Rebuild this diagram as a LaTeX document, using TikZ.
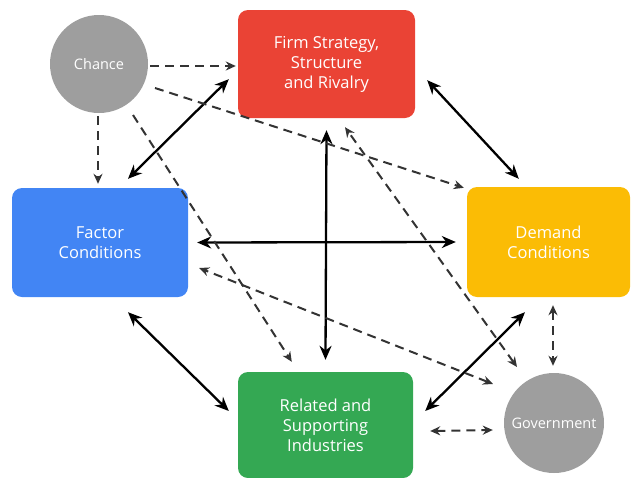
\documentclass[tikz,border=0pt]{standalone}
\usepackage{fontspec}
\setmainfont{Open Sans}
\usetikzlibrary{arrows.meta}
\definecolor{firmred}{HTML}{EA4335}
\definecolor{factorblue}{HTML}{4285F4}
\definecolor{demandyellow}{HTML}{FBBC05}
\definecolor{relgreen}{HTML}{34A853}
\definecolor{circgray}{HTML}{9E9E9E}
\tikzset{
  box/.style={rounded corners=10pt, inner sep=0pt, text=white, align=center,
    font=\fontsize{16.5}{20}\selectfont},
  circ/.style={circle, fill=circgray, inner sep=0pt, text=white,
    font=\fontsize{14.5}{17}\selectfont},
  solidlink/.style={draw=black, line width=2.3pt, {Stealth[length=14pt,width=12pt]}-{Stealth[length=14pt,width=12pt]}},
  dashlink/.style={draw=black!80, line width=2pt, dash pattern=on 9pt off 6pt, -{Stealth[length=10pt,width=9pt]}},
  dashboth/.style={draw=black!80, line width=2pt, dash pattern=on 9pt off 6pt, {Stealth[length=10pt,width=9pt]}-{Stealth[length=10pt,width=9pt]}}
}
\begin{document}
\begin{tikzpicture}[x=1pt,y=-1pt]
\useasboundingbox (0,0) rectangle (632,477);
% boxes
\node[box, fill=firmred, minimum width=177pt, minimum height=108pt] (firm) at (326.5,64) {Firm Strategy,\\Structure\\and Rivalry};
\node[box, fill=factorblue, minimum width=176pt, minimum height=109pt] (factor) at (100,242.5) {Factor\\Conditions};
\node[box, fill=demandyellow, minimum width=163pt, minimum height=110pt] (demand) at (548.5,242) {Demand\\Conditions};
\node[box, fill=relgreen, minimum width=175pt, minimum height=106pt] (related) at (325.5,425) {Related and\\Supporting\\Industries};
% circles
\node[circ, minimum size=98pt] (chance) at (99,64) {Chance};
\node[circ, minimum size=100pt] (gov) at (554,423) {Government};
% solid double arrows
\draw[solidlink] ([shift={(28,-9)}]factor.north) -- ([shift={(-9,-39)}]firm.south west);
\draw[solidlink] ([shift={(12,-38)}]firm.south east) -- ([shift={(52,-8)}]demand.north west);
\draw[solidlink] ([shift={(9,0)}]factor.east) -- ([shift={(-11,0)}]demand.west);
\draw[solidlink] ([shift={(0,12)}]firm.south) -- ([shift={(0,-12)}]related.north);
\draw[solidlink] ([shift={(28,15)}]factor.south) -- ([shift={(-9,-14)}]related.west);
\draw[solidlink] ([shift={(12,-14)}]related.east) -- ([shift={(-23.5,15)}]demand.south);
% chance influences
\draw[dashlink] ([shift={(2,2)}]chance.east) -- ([shift={(-2,2)}]firm.west);
\draw[dashlink] ([shift={(-1,3)}]chance.south) -- ([shift={(-2,-4)}]factor.north);
\draw[dashlink] ([shift={(56,24)}]chance.center) -- ([shift={(-3,1)}]demand.north west);
\draw[dashlink] ([shift={(34,51)}]chance.center) -- ([shift={(54,-10)}]related.north west);
% government influences
\draw[dashboth] ([shift={(-37,-56)}]gov.center) -- ([shift={(18.5,9)}]firm.south);
\draw[dashboth] ([shift={(-61,-39)}]gov.center) -- ([shift={(11,25.5)}]factor.east);
\draw[dashboth] ([shift={(4.5,8)}]demand.south) -- ([shift={(-1,-7)}]gov.north);
\draw[dashboth] ([shift={(17,6)}]related.east) -- ([shift={(-11,7)}]gov.west);
\end{tikzpicture}
\end{document}
